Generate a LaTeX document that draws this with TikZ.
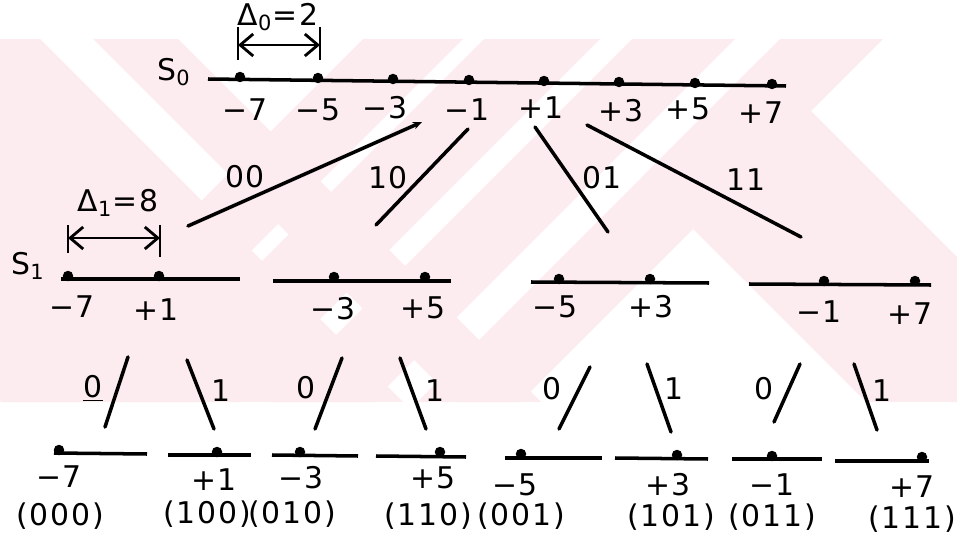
\documentclass[tikz,border=0pt]{standalone}
\usepackage{fontspec}
\newfontfamily\lblfont{DejaVu Sans}[LetterSpace=6]
\usetikzlibrary{arrows.meta,positioning,calc}
\definecolor{wmpink}{RGB}{253,236,239}

\begin{document}
\begin{tikzpicture}[
  x=0.02cm, y=-0.02cm,
  font=\lblfont\fontsize{17}{20}\selectfont,
  axis/.style={line width=2pt},
  branch/.style={line width=2pt, line cap=round},
  pt/.style={circle, fill, inner sep=0pt, minimum size=2.1mm},
  lbl/.style={inner sep=1pt},
  dimline/.style={{Straight Barb[length=2.6mm,width=4.4mm,line width=1.6pt]}-{Straight Barb[length=2.6mm,width=4.4mm,line width=1.6pt]}, line width=1.6pt},
  bar/.style={line width=1.6pt}
]
\useasboundingbox (0,0) rectangle (957,537);

% watermark in the back
\begin{scope}
  \clip (0,39) rectangle (957,402);
  \foreach \a/\b in {402/502, 523/639, 671/774, 819/922}
    \fill[wmpink] (\a-39,39) -- (\b-39,39) -- (\b-402,402) -- (\a-402,402) -- cycle;
  \foreach \a/\b in {-400/1, 54/139}
    \fill[wmpink] (\a+39,39) -- (\b+39,39) -- (\b+402,402) -- (\a+402,402) -- cycle;
  \fill[wmpink] (641.5,177.5) -- (759.5,59.5) -- (1102,402) -- (866,402) -- cycle;
\end{scope}

% level S0
\node (s0name) at (174,72) {S\textsubscript{0}};
\coordinate (s0a) at (208,79);
\coordinate (s0b) at (786,86);
\draw[axis] (s0a) -- (s0b);
\foreach \i/\x/\y in {1/240/77,2/318/78,3/393/79,4/469/80,5/544/81,6/619/82,7/695/83,8/772/84}
  \node[pt] (s0p\i) at (\x,\y) {};
\foreach \i/\x/\y/\t in {1/245/110/−7,2/318/110/−5,3/385/108/−3,4/467/110/−1,5/541/108/+1,6/621/111/+3,7/688/109/+5,8/761/113/+7}
  \node[lbl] (s0l\i) at (\x,\y) {\t};

% delta 0
\coordinate (d0l) at (238,45);
\coordinate (d0r) at (320,45);
\draw[bar] ($(d0l)+(0,-18)$) -- ($(d0l)+(0,15)$);
\draw[bar] ($(d0r)+(0,-18)$) -- ($(d0r)+(0,15)$);
\draw[dimline] (d0l) -- (d0r);
\node (d0name) at (278,17) {Δ\textsubscript{0}=2};

% branches S0 -> S1
\coordinate (b00a) at (188,226); \coordinate (b00b) at (422,122);
\coordinate (b10a) at (376,225); \coordinate (b10b) at (468,129);
\coordinate (b01a) at (535,127); \coordinate (b01b) at (608,232);
\coordinate (b11a) at (587,125); \coordinate (b11b) at (801,237);
\draw[branch, -{Stealth[length=1.8mm,width=1.5mm]}] (b00a) -- (b00b);
\draw[branch] (b10a) -- (b10b);
\draw[branch] (b01a) -- (b01b);
\draw[branch] (b11a) -- (b11b);
\node[lbl] (n00) at (245,177) {00};
\node[lbl] (n10) at (388,178) {10};
\node[lbl] (n01) at (602,178) {01};
\node[lbl] (n11) at (746,180) {11};

% level S1
\node (s1name) at (28,266) {S\textsubscript{1}};
\foreach \g/\ax/\ay/\bx/\by in {1/61/279/240/279, 2/273/281/451/281, 3/531/282/709/283, 4/749/284/931/285}
{
  \coordinate (s1a\g) at (\ax,\ay);
  \coordinate (s1b\g) at (\bx,\by);
  \draw[axis] (s1a\g) -- (s1b\g);
}
\foreach \i/\x/\y in {1/68/276,2/159/276,3/334/277,4/425/277,5/559/279,6/650/279,7/824/281,8/915/281}
  \node[pt] (s1p\i) at (\x,\y) {};
\foreach \i/\x/\y/\t in {1/72/307/−7,2/156/310/+1,3/333/309/−3,4/423/308/+5,5/555/307/−5,6/651/307/+3,7/819/312/−1,8/910/314/+7}
  \node[lbl] (s1l\i) at (\x,\y) {\t};

% delta 1
\coordinate (d1l) at (68,238);
\coordinate (d1r) at (160,238);
\draw[bar] ($(d1l)+(0,-13)$) -- ($(d1l)+(0,15)$);
\draw[bar] ($(d1r)+(0,-13)$) -- ($(d1r)+(0,19)$);
\draw[dimline] (d1l) -- (d1r);
\node (d1name) at (118,203) {Δ\textsubscript{1}=8};

% branches S1 -> S2
\foreach \i/\ax/\ay/\bx/\by in {1/128/357/105/427, 2/187/360/214/429, 3/342/358/315/429, 4/400/358/426/429, 5/590/367/559/429, 6/647/364/671/432, 7/800/364/774/422, 8/854/364/877/430}
{
  \coordinate (c\i a) at (\ax,\ay);
  \coordinate (c\i b) at (\bx,\by);
  \draw[branch] (c\i a) -- (c\i b);
}
\node[lbl] (m1) at (93,388) {\underline{0}};
\foreach \i/\x/\y/\t in {2/221/391/1, 3/306/388/0, 4/435/391/1, 5/552/389/0, 6/674/389/1, 7/764/389/0, 8/882/391/1}
  \node[lbl] (m\i) at (\x,\y) {\t};

% level S2
\foreach \i/\ax/\ay/\bx/\by/\px/\py in {1/54/453/147/454/59/450, 2/168/455/251/455/217/452, 3/272/455/358/456/300/452, 4/376/456/466/457/440/452, 5/505/458/602/458/521/454, 6/615/458/708/459/677/455, 7/732/459/822/459/772/456, 8/835/461/929/461/922/457}
{
  \coordinate (s2a\i) at (\ax,\ay);
  \coordinate (s2b\i) at (\bx,\by);
  \draw[axis] (s2a\i) -- (s2b\i);
  \node[pt] (s2p\i) at (\px,\py) {};
}
\foreach \i/\x/\y/\t/\bx/\by/\b in {1/59/477/−7/60/516/000, 2/214/480/+1/207/514/100, 3/301/478/−3/292/514/010, 4/433/478/+5/428/516/110, 5/515/485/−5/521/516/001, 6/668/485/+3/671/517/101, 7/772/485/−1/772/517/011, 8/912/487/+7/912/519/111}
{
  \node[lbl] (s2l\i) at (\x,\y) {\t};
  \node[lbl] (code\i) at (\bx,\by) {(\b)};
}
\end{tikzpicture}
\end{document}
